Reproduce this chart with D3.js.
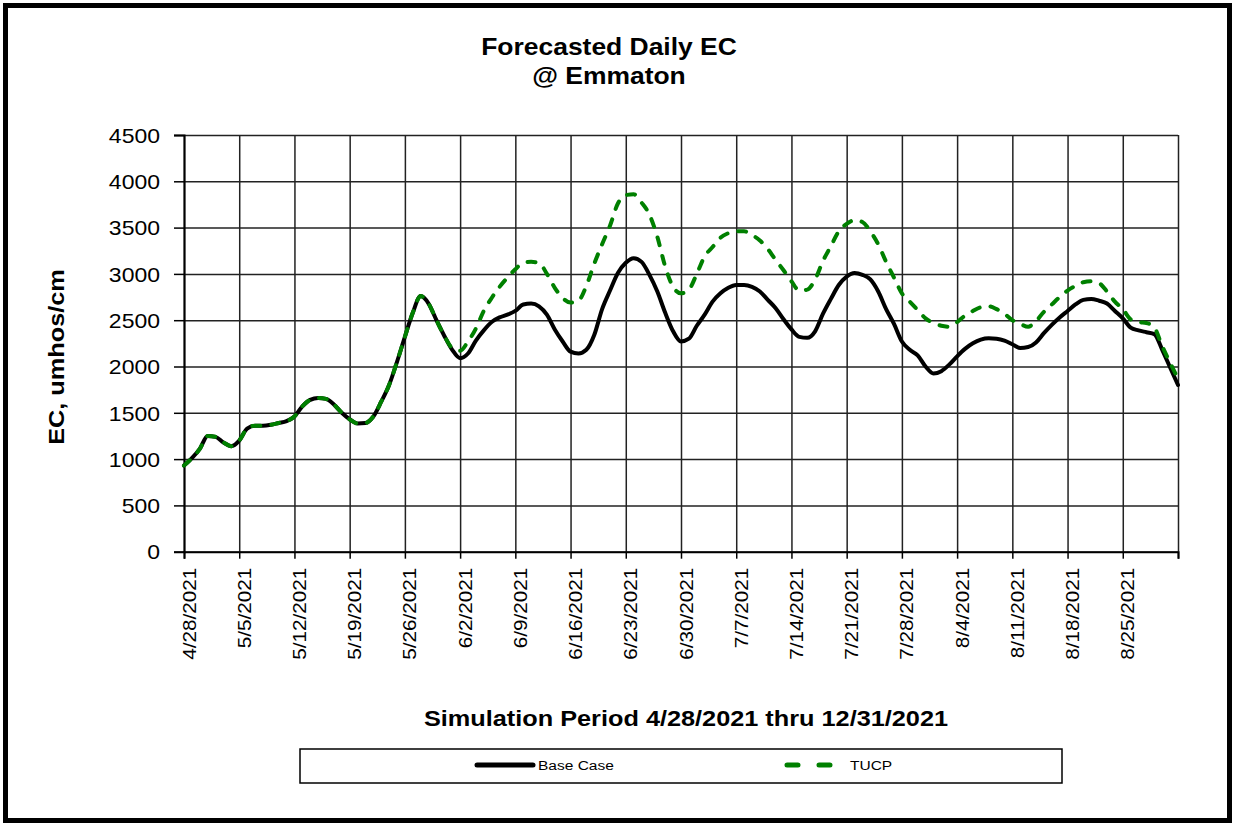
<!DOCTYPE html>
<html>
<head>
<meta charset="utf-8">
<script src="https://cdn.jsdelivr.net/npm/d3@7"></script>
<style>
  body { margin: 0; background: #fff; }
  svg { display: block; }
  text { font-family: "Liberation Sans", Arial, Helvetica, sans-serif; fill: #000; }
</style>
</head>
<body>
<svg id="chart" width="1235" height="825"></svg>
<script>
// Simulation window (daily values, 4/28/2021 .. 9/1/2021)
const startDate = "4/28/2021";
const endDate = "9/1/2021";

// Weekly tick labels on the date axis
const tickLabels = ["4/28/2021", "5/5/2021", "5/12/2021", "5/19/2021", "5/26/2021", "6/2/2021",
  "6/9/2021", "6/16/2021", "6/23/2021", "6/30/2021", "7/7/2021", "7/14/2021", "7/21/2021",
  "7/28/2021", "8/4/2021", "8/11/2021", "8/18/2021", "8/25/2021"];

// EC ticks (umhos/cm)
const yTicks = [0, 500, 1000, 1500, 2000, 2500, 3000, 3500, 4000, 4500];

// Daily forecast EC at Emmaton, Base Case
const baseCase = [
  930, 1010, 1110, 1250, 1240, 1180, 1140, 1200, 1330, 1360,
  1360, 1370, 1390, 1410, 1460, 1570, 1640, 1660, 1650, 1590,
  1500, 1430, 1385, 1390, 1460, 1620, 1800, 2050, 2320, 2580,
  2760, 2680, 2500, 2330, 2180, 2090, 2140, 2280, 2390, 2480,
  2530, 2560, 2600, 2670, 2680, 2650, 2560, 2400, 2270, 2160,
  2140, 2180, 2340, 2620, 2820, 3010, 3120, 3170, 3130, 2990,
  2810, 2580, 2380, 2270, 2300, 2440, 2560, 2700, 2790, 2850,
  2880, 2880, 2860, 2810, 2720, 2630, 2510, 2400, 2320, 2310,
  2380, 2570, 2730, 2880, 2970, 3010, 2990, 2940, 2810, 2620,
  2460, 2270, 2180, 2120, 2000, 1925, 1950, 2020, 2110, 2190,
  2250, 2290, 2305, 2300, 2280, 2240, 2200, 2210, 2260, 2360,
  2450, 2530, 2600, 2670, 2720, 2730, 2710, 2680, 2600, 2520,
  2420, 2390, 2370, 2350, 2180, 1990, 1800
];

// Daily forecast EC at Emmaton, TUCP
const tucp = [
  930, 1010, 1110, 1250, 1240, 1180, 1140, 1200, 1330, 1360,
  1360, 1370, 1390, 1410, 1460, 1570, 1640, 1660, 1650, 1590,
  1500, 1430, 1385, 1390, 1460, 1620, 1800, 2050, 2320, 2580,
  2760, 2680, 2500, 2330, 2200, 2170, 2270, 2410, 2600, 2740,
  2860, 2960, 3050, 3120, 3130, 3120, 3000, 2850, 2740, 2690,
  2710, 2870, 3110, 3320, 3520, 3760, 3850, 3860, 3770, 3640,
  3400, 3080, 2860, 2790, 2830, 3000, 3190, 3290, 3390, 3440,
  3460, 3460, 3420, 3360, 3270, 3150, 3040, 2920, 2820, 2830,
  2940, 3140, 3300, 3460, 3540, 3580, 3560, 3460, 3320, 3130,
  2960, 2790, 2700, 2610, 2520, 2470, 2440, 2430, 2480, 2550,
  2600, 2640, 2650, 2620, 2570, 2500, 2460, 2430, 2490, 2590,
  2670, 2750, 2820, 2870, 2910, 2920, 2900, 2810, 2700, 2620,
  2510, 2480, 2470, 2420, 2220, 2040, 1870
];

const seriesNames = ["Base Case", "TUCP"];
const seriesColors = ["#000000", "#008000"];

const svg = d3.select("#chart");
const W = 1235, H = 825;
const plot = { left: 184, right: 1178, top: 135, bottom: 551.7 };
const SX = 1.15; // horizontal stretch of the chart lettering

const parseDate = d3.timeParse("%m/%d/%Y");
const t0 = parseDate(startDate), t1 = parseDate(endDate);
const days = baseCase.map((_, i) => d3.timeDay.offset(t0, i));
const tickDates = tickLabels.map(parseDate);
const gridDates = tickDates.concat([t1]);

const x = d3.scaleTime().domain([t0, t1]).range([plot.left, plot.right]);
const y = d3.scaleLinear().domain([0, 4500]).range([plot.bottom, plot.top]);

// Outer frame
svg.append("rect")
  .attr("x", 5.5).attr("y", 5.5).attr("width", W - 11).attr("height", H - 10)
  .attr("fill", "#fff").attr("stroke", "#000").attr("stroke-width", 5);

// Title
const title = svg.append("g").attr("font-weight", "bold").attr("font-size", 23);
["Forecasted Daily EC", "@ Emmaton"].forEach((t, i) => {
  title.append("text")
    .attr("transform", `translate(609,${55 + i * 29}) scale(${SX},1)`)
    .attr("text-anchor", "middle")
    .text(t);
});

// Gridlines
svg.append("g")
  .attr("transform", `translate(0,${plot.bottom})`)
  .call(d3.axisBottom(x).tickValues(gridDates).tickSize(-(plot.bottom - plot.top)).tickFormat(""))
  .call(g => g.select(".domain").remove())
  .call(g => g.selectAll("line").attr("stroke", "#222").attr("stroke-width", 1.5));

svg.append("g")
  .attr("transform", `translate(${plot.left},0)`)
  .call(d3.axisLeft(y).tickValues(yTicks).tickSize(-(plot.right - plot.left)).tickFormat(""))
  .call(g => g.select(".domain").remove())
  .call(g => g.selectAll("line").attr("stroke", "#222").attr("stroke-width", 1.5));

// Y axis with labels
const yAxis = svg.append("g")
  .attr("transform", `translate(${plot.left},0)`)
  .call(d3.axisLeft(y).tickValues(yTicks).tickSize(10).tickPadding(14).tickFormat(d3.format("d")));
yAxis.select(".domain").attr("stroke", "#000").attr("stroke-width", 2);
yAxis.selectAll("line").attr("stroke", "#000").attr("stroke-width", 1.5);
yAxis.selectAll("text")
  .attr("x", 0).attr("dy", "0.36em")
  .attr("transform", `translate(-24,0) scale(${SX},1)`)
  .attr("font-size", 20)
  .attr("font-family", "Liberation Sans, Arial, sans-serif")
  .attr("fill", "#111");

// X axis with rotated date labels
const xAxis = svg.append("g")
  .attr("transform", `translate(0,${plot.bottom})`)
  .call(d3.axisBottom(x).tickValues(gridDates).tickSize(7)
    .tickFormat(d => {
      const i = tickDates.findIndex(t => +t === +d);
      return i >= 0 ? tickLabels[i] : "";
    }));
xAxis.select(".domain").attr("stroke", "#000").attr("stroke-width", 2);
xAxis.selectAll("line").attr("stroke", "#000").attr("stroke-width", 1.5);
xAxis.selectAll("text")
  .attr("x", 0).attr("y", 0).attr("dy", null)
  .attr("transform", `translate(11,16) rotate(-90) scale(${SX},1)`)
  .attr("text-anchor", "end")
  .attr("font-size", 18)
  .attr("font-family", "Liberation Sans, Arial, sans-serif")
  .attr("fill", "#111");

// Axis titles
svg.append("text")
  .attr("transform", `translate(64,357) rotate(-90) scale(${SX},1)`)
  .attr("text-anchor", "middle")
  .attr("font-weight", "bold").attr("font-size", 22)
  .text("EC, umhos/cm");

svg.append("text")
  .attr("transform", `translate(686,726) scale(${SX},1)`)
  .attr("text-anchor", "middle")
  .attr("font-weight", "bold").attr("font-size", 22)
  .text("Simulation Period 4/28/2021 thru 12/31/2021");

// Series lines
const line = d3.line()
  .x((d, i) => x(days[i]))
  .y(d => y(d))
  .curve(d3.curveMonotoneX);

const plotG = svg.append("g");
plotG.append("path")
  .datum(baseCase)
  .attr("d", line)
  .attr("fill", "none")
  .attr("stroke", seriesColors[0])
  .attr("stroke-width", 4)
  .attr("stroke-linejoin", "round")
  .attr("stroke-linecap", "round");

plotG.append("path")
  .datum(tucp)
  .attr("d", line)
  .attr("fill", "none")
  .attr("stroke", seriesColors[1])
  .attr("stroke-width", 4)
  .attr("stroke-dasharray", "8,11")
  .attr("stroke-linejoin", "round")
  .attr("stroke-linecap", "round");

// Legend
const legend = svg.append("g");
legend.append("rect")
  .attr("x", 300).attr("y", 749).attr("width", 762).attr("height", 34)
  .attr("fill", "#fff").attr("stroke", "#000").attr("stroke-width", 1.5);

legend.append("line")
  .attr("x1", 477).attr("x2", 533).attr("y1", 765).attr("y2", 765)
  .attr("stroke", seriesColors[0]).attr("stroke-width", 5).attr("stroke-linecap", "round");
legend.append("text")
  .attr("transform", `translate(538,770) scale(${SX},1)`)
  .attr("font-size", 13.5)
  .text(seriesNames[0]);

legend.append("line")
  .attr("x1", 787).attr("x2", 832).attr("y1", 765).attr("y2", 765)
  .attr("stroke", seriesColors[1]).attr("stroke-width", 5)
  .attr("stroke-dasharray", "11,21").attr("stroke-linecap", "round");
legend.append("text")
  .attr("transform", `translate(850,770) scale(${SX},1)`)
  .attr("font-size", 13.5)
  .text(seriesNames[1]);
</script>
</body>
</html>
